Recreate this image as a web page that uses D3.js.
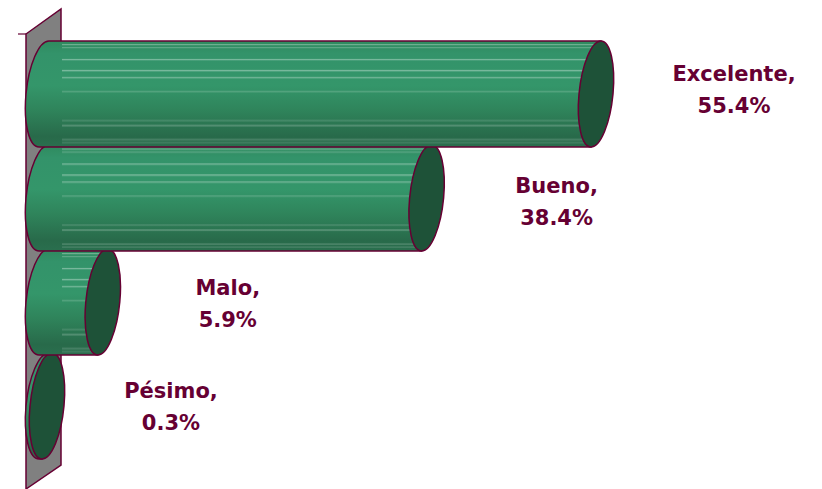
<!DOCTYPE html>
<html><head><meta charset="utf-8">
<script src="https://cdn.jsdelivr.net/npm/d3@7"></script>
<style>html,body{margin:0;padding:0;background:#fff}svg{display:block}</style>
</head><body><svg id="c" width="822" height="489"></svg>
<script>
const categories = ["Excelente","Bueno","Malo","Pésimo"];
const values = [55.4,38.4,5.9,0.3];
const valueLabels = ["55.4%","38.4%","5.9%","0.3%"];

const W=822,H=489, maroon="#660033";
const svg=d3.select("#c");
const x=d3.scaleLinear().domain([0,55.4]).range([44,596]);
const y=d3.scaleBand().domain(categories).range([42,458]).paddingInner(0).paddingOuter(0);
const rx=18, skew=-5.3;
const halfH=y.bandwidth()/2+1;
const labelDx=[138,130,125,124], labelDy=[-13,-5,-7,-8];

const defs=svg.append("defs");
const grad=defs.append("linearGradient").attr("id","body").attr("x1",0).attr("x2",0).attr("y1",0).attr("y2",1);
[[0,"#2f8a5e"],[.12,"#33936a"],[.42,"#34966a"],[.65,"#2f845b"],[.9,"#286a4a"],[1,"#2a6f4e"]].forEach(s=>grad.append("stop").attr("offset",s[0]).attr("stop-color",s[1]));
// sheen texture of the original raster gradient
const sheen=defs.append("pattern").attr("id","sheen").attr("patternUnits","userSpaceOnUse").attr("width",10).attr("height",104.5).attr("y",y(categories[0]));
[[2,.3],[5,.22],[17,.38],[28,.42],[35,.36],[49,.22],[78,.18],[83,.3],[97,.22],[100,.16]].forEach(s=>sheen.append("rect").attr("x",0).attr("width",10).attr("y",s[0]).attr("height",1.2).attr("fill","#fff").attr("opacity",s[1]));

// back wall
const wx0=26,wx1=61;
svg.append("polygon").attr("points",[[wx0,34],[wx1,9],[wx1,465],[wx0,489]].join(" "))
 .attr("fill","#808080").attr("stroke",maroon).attr("stroke-width",1.5);
svg.append("line").attr("x1",18).attr("x2",wx0).attr("y1",34).attr("y2",34).attr("stroke",maroon).attr("stroke-width",1.2);

const order=categories.map((c,i)=>i).reverse();
order.forEach(i=>{
  const c=categories[i], cy=y(c)+y.bandwidth()/2, x0=x(0), x1=x(values[i]);
  const bodyD=`M${x0},${-halfH}L${x1},${-halfH}L${x1},${halfH}L${x0},${halfH}A${rx},${halfH} 0 0 1 ${x0},${-halfH}Z`;
  const k=Math.tan(skew*Math.PI/180);
  const clipId="clip"+i;
  defs.append("clipPath").attr("id",clipId).append("path").attr("d",bodyD).attr("transform",`translate(0,${cy}) skewX(${skew})`);
  const g=svg.append("g");
  g.append("path").attr("d",bodyD).attr("transform",`translate(0,${cy}) skewX(${skew})`)
    .attr("fill","url(#body)");
  if(x1+rx>wx1) g.append("rect").attr("x",wx1+1).attr("y",cy-halfH).attr("width",x1-wx1+rx).attr("height",halfH*2)
    .attr("fill","url(#sheen)").attr("clip-path",`url(#${clipId})`);
  g.append("path").attr("d",bodyD).attr("transform",`translate(0,${cy}) skewX(${skew})`)
    .attr("fill","none").attr("stroke",maroon).attr("stroke-width",1.5);
  g.append("ellipse").attr("cx",x1).attr("cy",0).attr("rx",rx-1).attr("ry",halfH)
    .attr("transform",`translate(0,${cy}) skewX(${skew})`)
    .attr("fill","#1e5238").attr("stroke",maroon).attr("stroke-width",1.5);
});

const lab=svg.append("g").attr("font-family","'DejaVu Sans',Verdana,sans-serif").attr("font-weight","bold")
 .attr("font-size",21).attr("fill",maroon).attr("text-anchor","middle");
categories.forEach((c,i)=>{
  const tx=x(values[i])+labelDx[i], ty=y(c)+y.bandwidth()/2+labelDy[i];
  lab.append("text").attr("x",tx).attr("y",ty).text(c+",");
  lab.append("text").attr("x",tx).attr("y",ty+32).text(valueLabels[i]);
});
</script></body></html>
